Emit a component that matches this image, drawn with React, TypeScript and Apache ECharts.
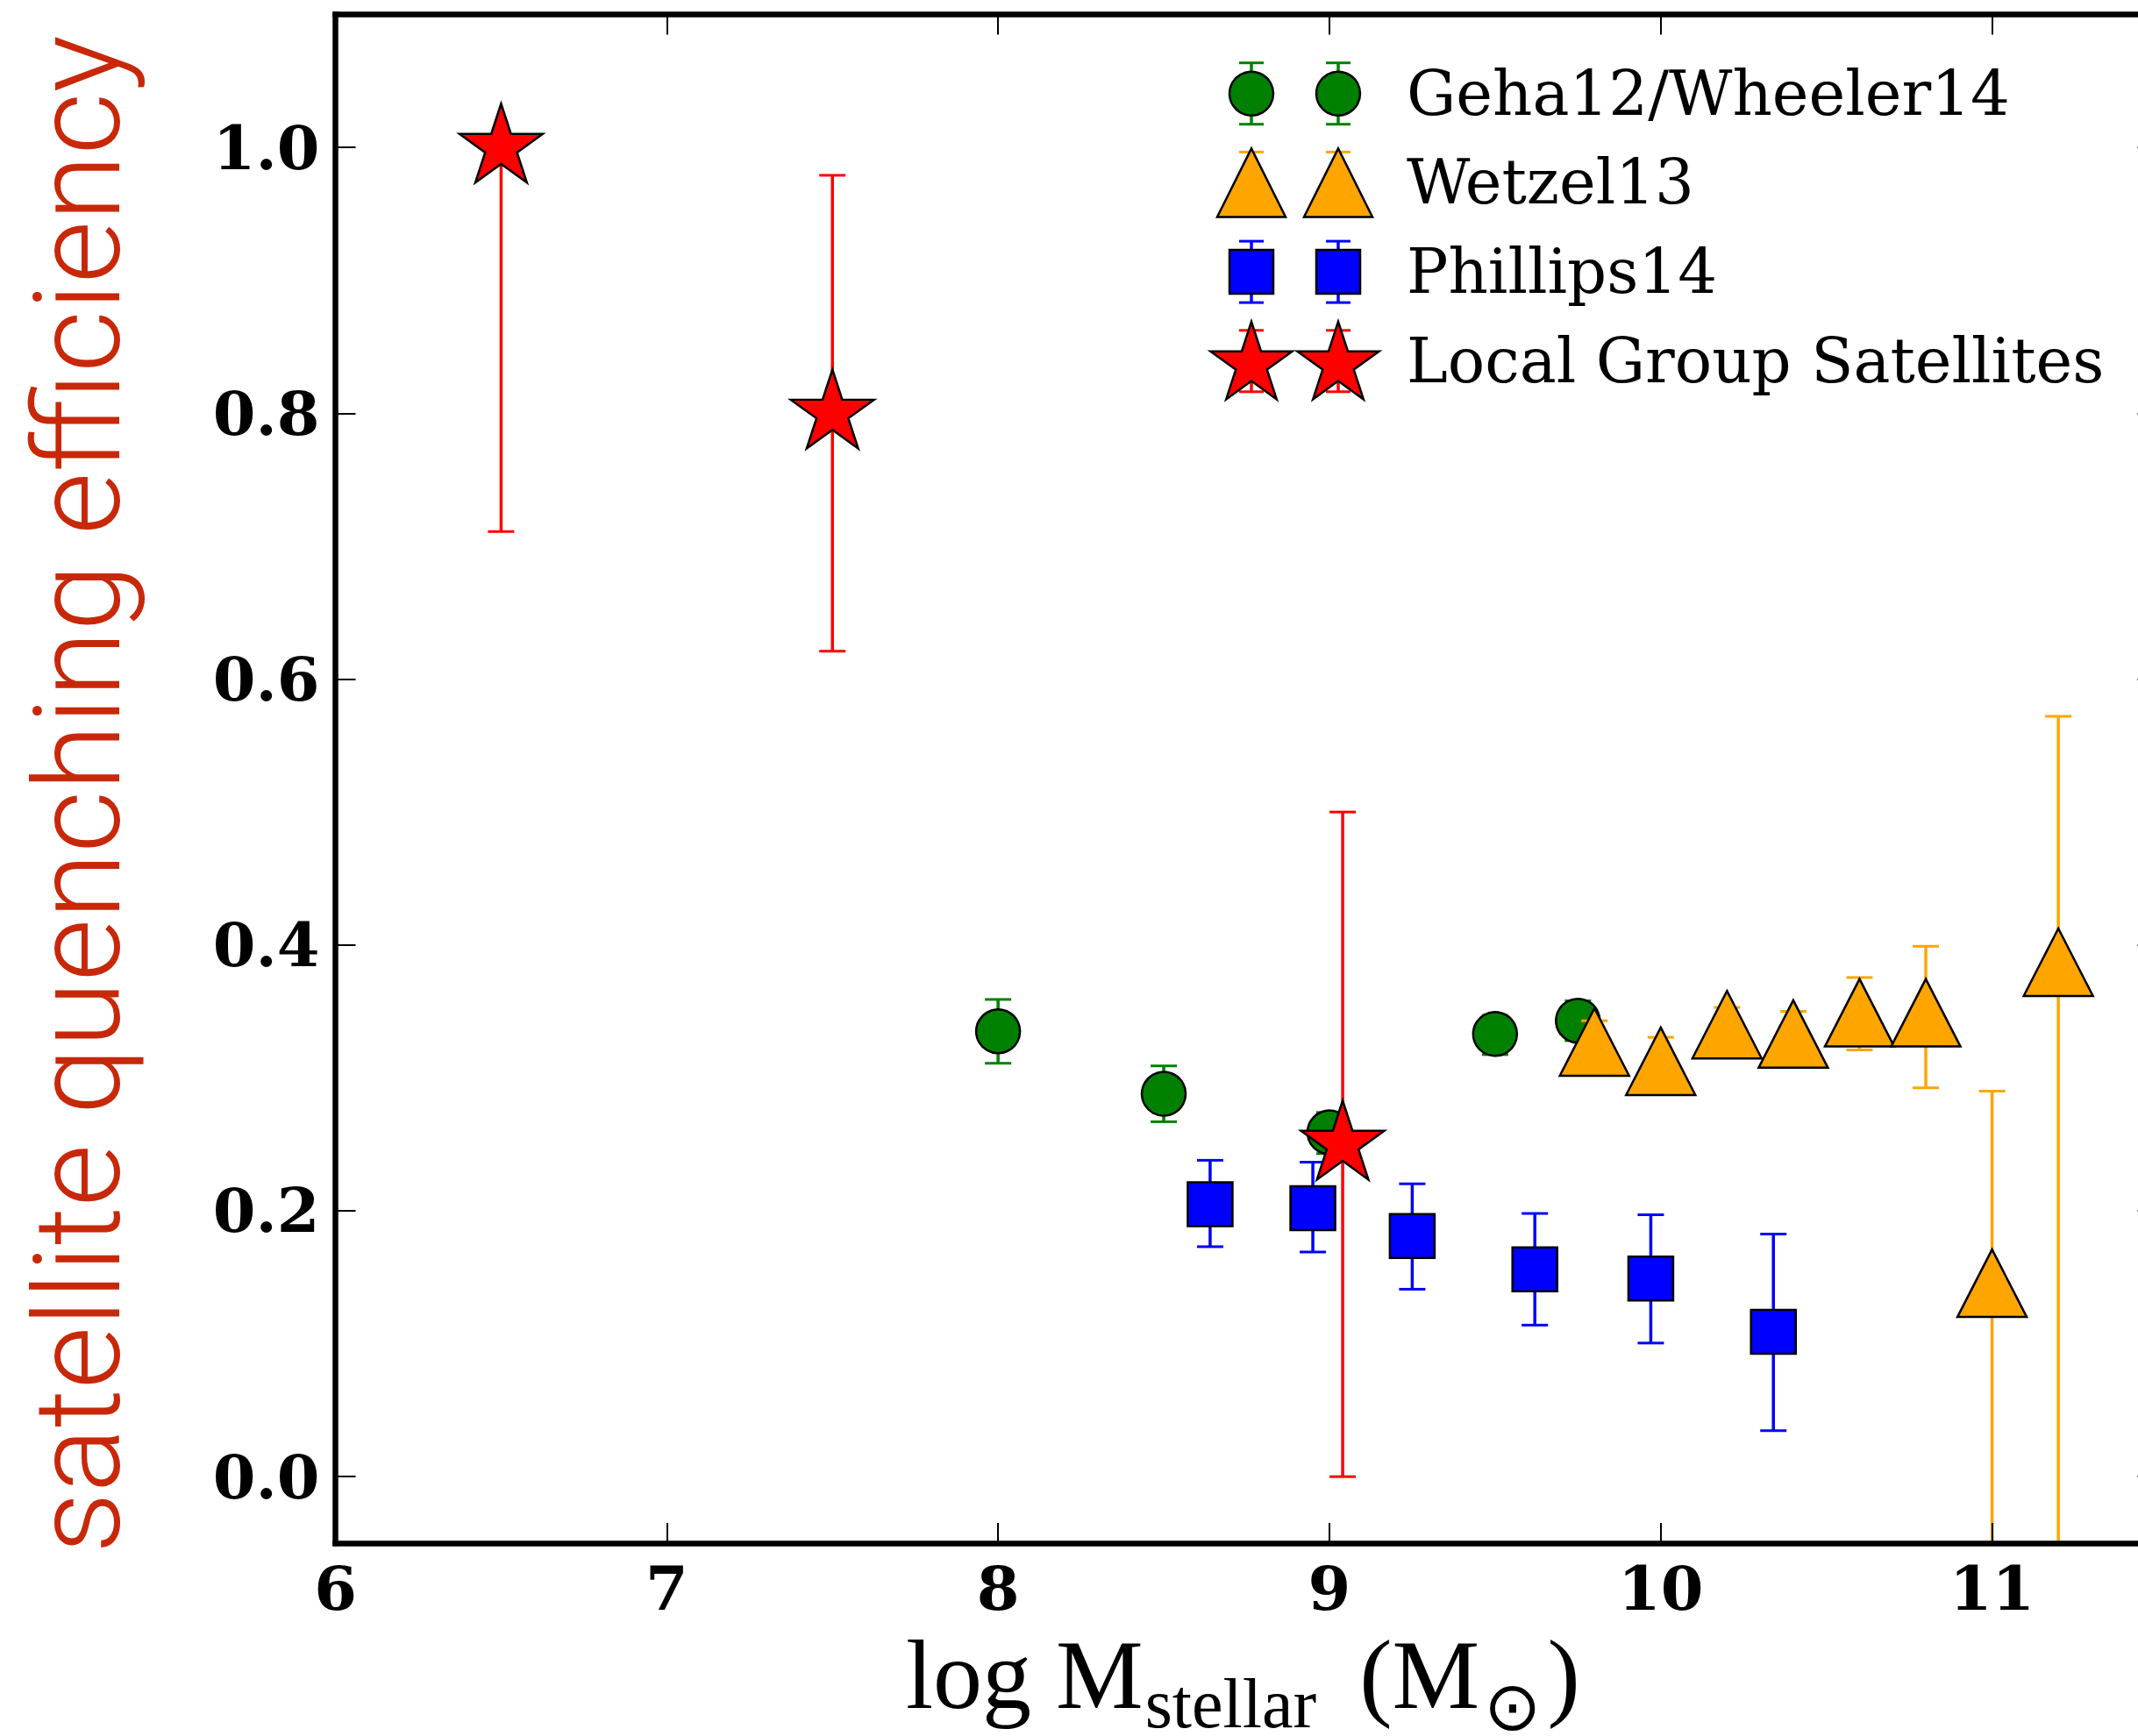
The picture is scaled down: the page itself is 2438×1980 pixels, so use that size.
import React, { useEffect, useRef } from 'react';
import * as echarts from 'echarts';

// ---------- data ----------
const xTicks = [6, 7, 8, 9, 10, 11];
const yTicks = [0, 0.2, 0.4, 0.6, 0.8, 1.0];

const gehaX = [8.0, 8.5, 9.0, 9.5, 9.75];
const gehaY = [0.335, 0.288, 0.259, 0.333, 0.343];
const gehaLo = [0.311, 0.267, 0.243, 0.3175, 0.328];
const gehaHi = [0.359, 0.309, 0.274, 0.347, 0.358];

const wetzelX = [9.8, 10.0, 10.2, 10.4, 10.6, 10.8, 11.0, 11.2];
const wetzelY = [0.327, 0.3125, 0.34, 0.333, 0.349, 0.349, 0.1455, 0.387];
const wetzelLo = [0.311, 0.2945, 0.327, 0.316, 0.321, 0.2925, -0.2, -0.2];
const wetzelHi = [0.343, 0.3305, 0.353, 0.35, 0.3755, 0.399, 0.29, 0.572];

const phillipsX = [8.64, 8.95, 9.25, 9.62, 9.97, 10.34];
const phillipsY = [0.205, 0.202, 0.181, 0.156, 0.149, 0.109];
const phillipsLo = [0.173, 0.169, 0.141, 0.114, 0.1005, 0.0346];
const phillipsHi = [0.238, 0.2366, 0.2203, 0.198, 0.197, 0.1825];

const lgX = [6.5, 7.5, 9.04];
const lgY = [1.0, 0.8, 0.25];
const lgLo = [0.711, 0.621, 0.0];
const lgHi = [1.0, 0.979, 0.5];

const legendLabels = ['Geha12/Wheeler14', 'Wetzel13', 'Phillips14', 'Local Group Satellites'];
const yTitle = 'satellite quenching efficiency';

const GREEN = '#008000';
const ORANGE = '#FFA500';
const BLUE = '#0000FF';
const RED = '#FF0000';

// ---------- shapes ----------
function starPoints(r: number, cx = 0, cy = 0): number[][] {
  const pts: number[][] = [];
  for (let k = 0; k < 10; k++) {
    const ang = ((-90 + k * 36) * Math.PI) / 180;
    const rr = k % 2 ? r * 0.381966 : r;
    pts.push([cx + rr * Math.cos(ang), cy + rr * Math.sin(ang)]);
  }
  return pts;
}
const STAR_SYMBOL =
  'path://' +
  starPoints(100, 0, 0)
    .map((p, i) => (i ? 'L' : 'M') + p[0].toFixed(3) + ' ' + p[1].toFixed(3))
    .join(' ') +
  ' Z';

function errRender(color: string) {
  return (params: any, api: any) => {
    const x = api.value(0);
    const lo = api.value(2);
    const hi = api.value(3);
    const cs = params.coordSys;
    const top = cs.y;
    const bottom = cs.y + cs.height;
    const pLo = api.coord([x, lo]);
    const pHi = api.coord([x, hi]);
    const clamp = (v: number) => Math.max(top, Math.min(bottom, v));
    const px = pLo[0];
    const children: any[] = [
      {
        type: 'line',
        shape: { x1: px, y1: clamp(pHi[1]), x2: px, y2: clamp(pLo[1]) },
        style: { stroke: color, lineWidth: 3.5 },
      },
    ];
    const capW = 15;
    [pLo[1], pHi[1]].forEach((yy) => {
      if (yy >= top && yy <= bottom) {
        children.push({
          type: 'line',
          shape: { x1: px - capW, y1: yy, x2: px + capW, y2: yy },
          style: { stroke: color, lineWidth: 3 },
        });
      }
    });
    return { type: 'group', children };
  };
}

function errSeries(xs: number[], ys: number[], los: number[], his: number[], color: string, z: number) {
  return {
    type: 'custom',
    renderItem: errRender(color),
    data: xs.map((x, i) => [x, ys[i], los[i], his[i]]),
    encode: { x: 0, y: 1 },
    z,
    silent: true,
  };
}

function markerSeries(name: string, xs: number[], ys: number[], color: string, symbol: string, size: any, z: number, offset?: any) {
  return {
    type: 'scatter',
    name,
    data: xs.map((x, i) => [x, ys[i]]),
    symbol,
    symbolSize: size,
    symbolOffset: offset || [0, 0],
    itemStyle: { color, borderColor: '#000', borderWidth: 2.5, opacity: 1 },
    emphasis: { disabled: true },
    z,
    silent: true,
  };
}

// ---------- legend (graphic) ----------
function legendGraphics() {
  const els: any[] = [];
  const markerX = [1427, 1526];
  const rowY0 = 106.7;
  const rowGap = 101.7;
  const colors = [GREEN, ORANGE, BLUE, RED];
  legendLabels.forEach((label, i) => {
    const cy = rowY0 + i * rowGap;
    markerX.forEach((cx) => {
      const col = colors[i];
      els.push({ type: 'line', shape: { x1: cx, y1: cy - 35, x2: cx, y2: cy + 35 }, style: { stroke: col, lineWidth: 3.5 }, z: 100 });
      els.push({ type: 'line', shape: { x1: cx - 14, y1: cy - 35, x2: cx + 14, y2: cy - 35 }, style: { stroke: col, lineWidth: 3 }, z: 100 });
      els.push({ type: 'line', shape: { x1: cx - 14, y1: cy + 35, x2: cx + 14, y2: cy + 35 }, style: { stroke: col, lineWidth: 3 }, z: 100 });
      const st = { fill: col, stroke: '#000', lineWidth: 2.5 };
      if (i === 0) els.push({ type: 'circle', shape: { cx, cy, r: 25 }, style: st, z: 101 });
      if (i === 1) els.push({ type: 'polygon', shape: { points: [[cx, cy - 39], [cx - 39, cy + 39], [cx + 39, cy + 39]] }, style: st, z: 101 });
      if (i === 2) els.push({ type: 'rect', shape: { x: cx - 25, y: cy - 25, width: 50, height: 50 }, style: st, z: 101 });
      if (i === 3) els.push({ type: 'polygon', shape: { points: starPoints(49, cx, cy + 4) }, style: st, z: 101 });
    });
    els.push({
      type: 'text',
      x: 1604,
      y: cy,
      z: 101,
      style: {
        text: label,
        fill: '#000',
        fontSize: 70.5,
        fontFamily: 'DejaVu Serif',
        align: 'left',
        verticalAlign: 'middle',
      },
    });
  });
  return els;
}

// ---------- x-axis title with subscripts (graphic texts laid out by measured widths) ----------
function xTitleGraphics() {
  const ctx = document.createElement('canvas').getContext('2d')!;
  const measure = (t: string, size: number, fam: string) => {
    ctx.font = `${size}px ${fam}`;
    return ctx.measureText(t).width;
  };
  const SERIF = "'Liberation Serif'";
  const mainBase = 1948;
  const subBase = 1970;
  const parts = [
    { t: 'log M', size: 112, fam: SERIF, y: mainBase - 0.3375 * 112, gap: 0, lh: 112 },
    { t: 'stellar', size: 80, fam: SERIF, y: subBase - 0.3375 * 80, gap: 2, lh: 50 },
    { t: '(M', size: 112, fam: SERIF, y: mainBase - 0.3375 * 112, gap: 49, lh: 112 },
    { t: '⊙', size: 78, fam: "'DejaVu Sans'", y: 1946, gap: 5, lh: 36 },
    { t: ')', size: 112, fam: SERIF, y: mainBase - 0.3375 * 112, gap: 7, lh: 112 },
  ];
  let x = 1033;
  const els: any[] = [];
  parts.forEach((p) => {
    x += p.gap;
    els.push({
      type: 'text',
      x,
      y: p.y,
      z: 100,
      style: {
        text: p.t,
        fill: '#000',
        fontSize: p.size,
        lineHeight: p.lh,
        fontFamily: p.fam.replace(/'/g, ''),
        align: 'left',
        verticalAlign: 'middle',
      },
    });
    x += measure(p.t, p.size, p.fam);
  });
  return els;
}

const axisCommon = {
  type: 'value',
  splitLine: { show: false },
  axisLine: { show: true, onZero: false, lineStyle: { color: '#000', width: 6.5, cap: 'square' } },
  z: 20,
};

export default function App() {
  const ref = useRef<HTMLDivElement>(null);
  useEffect(() => {
    document.body.style.margin = '0';
    const chart = echarts.init(ref.current!, null, { renderer: 'svg' });
    const labelFont = { color: '#000', fontFamily: 'DejaVu Serif', fontWeight: 'bold', fontSize: 70 };
    const tick = (vals: number[]) => ({ show: true, inside: true, length: 23, customValues: vals, lineStyle: { color: '#000', width: 2 } });
    chart.setOption({
      animation: false,
      backgroundColor: '#fff',
      grid: { left: 382.5, top: 16.5, width: 2078, height: 1743.5, containLabel: false, outerBoundsMode: 'none' },
      xAxis: [
        {
          ...axisCommon,
          min: 6,
          max: 11.5,
          position: 'bottom',
          axisTick: tick(xTicks),
          axisLabel: { ...labelFont, margin: 21, lineHeight: 60, customValues: xTicks, formatter: (v: number) => String(v) },
        },
        {
          ...axisCommon,
          min: 6,
          max: 11.5,
          position: 'top',
          axisTick: tick(xTicks),
          axisLabel: { show: false },
        },
      ],
      yAxis: [
        {
          ...axisCommon,
          min: -0.05,
          max: 1.1,
          position: 'left',
          axisTick: tick(yTicks),
          axisLabel: { ...labelFont, margin: 18, customValues: yTicks, formatter: (v: number) => v.toFixed(1) },
        },
        {
          ...axisCommon,
          min: -0.05,
          max: 1.1,
          position: 'right',
          axisTick: tick(yTicks),
          axisLabel: { show: false },
        },
      ],
      series: [
        errSeries(gehaX, gehaY, gehaLo, gehaHi, GREEN, 2),
        markerSeries('Geha12/Wheeler14', gehaX, gehaY, GREEN, 'circle', 50, 3),
        errSeries(wetzelX, wetzelY, wetzelLo, wetzelHi, ORANGE, 4),
        markerSeries('Wetzel13', wetzelX, wetzelY, ORANGE, 'triangle', [79, 77], 5),
        errSeries(phillipsX, phillipsY, phillipsLo, phillipsHi, BLUE, 6),
        markerSeries('Phillips14', phillipsX, phillipsY, BLUE, 'rect', [51, 50], 7),
        errSeries(lgX, lgY, lgLo, lgHi, RED, 8),
        markerSeries('Local Group Satellites', lgX, lgY, RED, STAR_SYMBOL, [95, 90], 9, [0, -4.8]),
      ],
      graphic: [
        {
          type: 'text',
          x: 89,
          y: 906,
          rotation: Math.PI / 2,
          z: 100,
          style: {
            text: yTitle,
            fill: '#c8280a',
            fontSize: 137.5,
            fontFamily: 'Roboto',
            fontWeight: 300,
            align: 'center',
            verticalAlign: 'middle',
          },
        },
        ...xTitleGraphics(),
        ...legendGraphics(),
      ],
    });
    return () => chart.dispose();
  }, []);
  return <div ref={ref} style={{ position: 'absolute', left: 0, top: 0, width: 2438, height: 1980 }} />;
}
